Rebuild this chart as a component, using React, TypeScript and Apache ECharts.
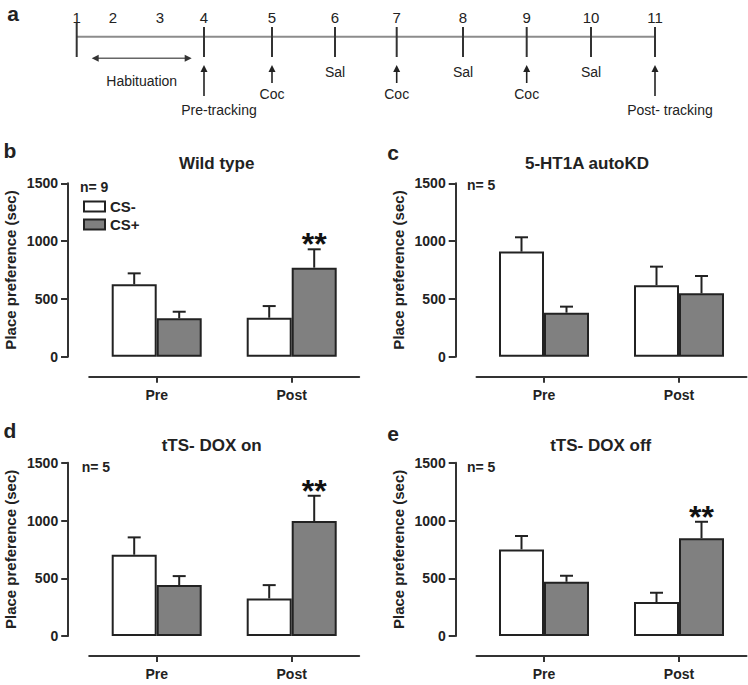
import React, { useEffect, useRef } from 'react';
import * as echarts from 'echarts';

// ---------- data ----------
const categories = ['Pre', 'Post'];
const seriesNames = ['CS-', 'CS+'];
const panelLetters = ['b', 'c', 'd', 'e'];
const panelTitles = ['Wild type', '5-HT1A autoKD', 'tTS- DOX on', 'tTS- DOX off'];
const panelN = ['n= 9', 'n= 5', 'n= 5', 'n= 5'];
// means per panel [Pre, Post]
const csMinusMean = [[626, 337], [909, 618], [704, 326], [750, 294]];
const csPlusMean = [[332, 770], [381, 548], [441, 995], [470, 846]];
// SEM per panel [Pre, Post]
const csMinusSem = [[95, 101], [124, 161], [150, 115], [116, 81]];
const csPlusSem = [[57, 159], [52, 150], [78, 219], [52, 143]];
// significance marks on CS+ bars
const csPlusSig = [['', '**'], ['', ''], ['', '**'], ['', '**']];
const yTickValues = [0, 500, 1000, 1500];
const yAxisTitle = 'Place preference (sec)';

// timeline (panel a)
const days = ['1', '2', '3', '4', '5', '6', '7', '8', '9', '10', '11'];
const dayHasTick = [true, false, false, true, true, true, true, true, true, true, true];
const dayEvent = ['', '', '', 'Pre-tracking', 'Coc', 'Sal', 'Coc', 'Sal', 'Coc', 'Sal', 'Post- tracking'];
const habituationLabel = 'Habituation';

// ---------- layout ----------
const FONT = '"Liberation Sans", Arial, Helvetica, sans-serif';
const dayX = [76.7, 113, 160, 204, 272, 335, 396.7, 463, 526.7, 591, 655];
const gridLefts = [89.2, 476.5, 89.2, 476.5];
const gridTops = [183.3, 183.3, 462.7, 462.7];
const gridW = 270;
const gridH = 173.4;
const yAxisOffsets = [21.2, 20.8, 21, 20.8];
const letterPos = [[10, 150], [393, 152], [10, 430], [393, 433]];
const titlePos = [[216.7, 163], [587, 163], [211.7, 445], [600.7, 445]];
const nPos = [[80, 187], [467, 185], [81.7, 466.7], [467, 466.7]];

function txt(text: string, x: number, y: number, size: number, bold: boolean, align = 'center', valign = 'middle', color = '#222') {
  return {
    type: 'text',
    silent: true,
    style: {
      text, x, y,
      fill: color,
      font: `${bold ? 'bold ' : ''}${size}px ${FONT}`,
      align, verticalAlign: valign,
      textAlign: align, textVerticalAlign: valign,
    },
  };
}
function ln(x1: number, y1: number, x2: number, y2: number, stroke = '#333', w = 2) {
  return { type: 'line', silent: true, shape: { x1, y1, x2, y2 }, style: { stroke, lineWidth: w } };
}
function upArrow(x: number, yTop: number, yBot: number) {
  return [
    ln(x, yTop + 3, x, yBot, '#222', 1.6),
    { type: 'polygon', silent: true, shape: { points: [[x, yTop], [x - 3.5, yTop + 7], [x + 3.5, yTop + 7]] }, style: { fill: '#222' } },
  ];
}

export default function App() {
  const ref = useRef<HTMLDivElement>(null);
  useEffect(() => {
    if (!ref.current) return;
    const chart = echarts.init(ref.current, undefined, { renderer: 'svg' });

    const graphics: any[] = [];
    // panel a
    graphics.push(txt('a', 13, 13, 21, true));
    const lineY = 36.7;
    graphics.push(ln(dayX[0], lineY, dayX[dayX.length - 1], lineY, '#8c8c8c', 2));
    days.forEach((d, i) => {
      graphics.push(txt(d, dayX[i], 17, 15, false));
      if (dayHasTick[i]) graphics.push(ln(dayX[i], i === 0 ? 23 : 27, dayX[i], 57, '#333', 2));
      const ev = dayEvent[i];
      if (ev === 'Coc') {
        graphics.push(...upArrow(dayX[i], 65, 83));
        graphics.push(txt(ev, dayX[i], 94, 14, false));
      } else if (ev === 'Sal') {
        graphics.push(txt(ev, dayX[i], 72, 14, false));
      } else if (ev) {
        graphics.push(...upArrow(dayX[i], 65, 96));
        graphics.push(txt(ev, i === 3 ? 219 : 670, 110, 14, false));
      }
    });
    // habituation double arrow
    const hx1 = 91.7, hx2 = 191.7, hy = 58.3;
    graphics.push(ln(hx1 + 3, hy, hx2 - 3, hy, '#666', 1.6));
    graphics.push({ type: 'polygon', silent: true, shape: { points: [[hx1, hy], [hx1 + 7, hy - 3.5], [hx1 + 7, hy + 3.5]] }, style: { fill: '#333' } });
    graphics.push({ type: 'polygon', silent: true, shape: { points: [[hx2, hy], [hx2 - 7, hy - 3.5], [hx2 - 7, hy + 3.5]] }, style: { fill: '#333' } });
    graphics.push(txt(habituationLabel, 141.7, 81, 14, false));

    // panel letters, titles, n
    for (let p = 0; p < 4; p++) {
      graphics.push(txt(panelLetters[p], letterPos[p][0], letterPos[p][1], 21, true));
      graphics.push(txt(panelTitles[p], titlePos[p][0], titlePos[p][1], 17, true));
      graphics.push(txt(panelN[p], nPos[p][0], nPos[p][1], 14, true, 'left'));
    }

    const grid: any[] = [];
    const xAxis: any[] = [];
    const yAxis: any[] = [];
    const series: any[] = [];
    for (let p = 0; p < 4; p++) {
      grid.push({ left: gridLefts[p], top: gridTops[p], width: gridW, height: gridH, containLabel: false });
      xAxis.push({
        type: 'category', gridIndex: p, data: categories, offset: 20,
        axisLine: { show: true, onZero: false, lineStyle: { color: '#333', width: 2 } },
        axisTick: { show: true, alignWithLabel: true, length: 6, lineStyle: { color: '#333', width: 2 } },
        axisLabel: { fontWeight: 'bold', fontSize: 14, color: '#222', margin: 11, fontFamily: FONT },
        splitLine: { show: false },
      });
      yAxis.push({
        type: 'value', gridIndex: p, min: 0, max: 1500, interval: 500, offset: yAxisOffsets[p],
        name: yAxisTitle, nameLocation: 'middle', nameRotate: 90, nameGap: 50,
        nameTextStyle: { fontWeight: 'bold', fontSize: 15, color: '#222', fontFamily: FONT },
        axisLine: { show: true, lineStyle: { color: '#333', width: 2 } },
        axisTick: { show: true, length: 7, lineStyle: { color: '#333', width: 2 } },
        axisLabel: {
          fontWeight: 'bold', fontSize: 14, color: '#222', margin: 10, fontFamily: FONT,
          formatter: (v: number) => String(v),
        },
        splitLine: { show: false },
      });
      const means = [csMinusMean[p], csPlusMean[p]];
      const sems = [csMinusSem[p], csPlusSem[p]];
      const sigs = [['', ''], csPlusSig[p]];
      [0, 1].forEach((g) => {
        series.push({
          type: 'bar', name: seriesNames[g], xAxisIndex: p, yAxisIndex: p,
          data: means[g], barGap: '0%', barCategoryGap: '33.333%',
          itemStyle: { color: g === 0 ? '#ffffff' : '#808080', borderColor: '#222', borderWidth: 2 },
          z: 2,
        });
      });
      const errData: number[][] = [];
      const errSig: string[] = [];
      [0, 1].forEach((g) => {
        categories.forEach((_, c) => {
          errData.push([c, means[g][c], sems[g][c], g]);
          errSig.push(sigs[g][c]);
        });
      });
      series.push({
        type: 'custom', xAxisIndex: p, yAxisIndex: p, data: errData, z: 3, clip: false,
        renderItem: (params: any, api: any) => {
          const c = api.value(0), m = api.value(1), s = api.value(2), g = api.value(3);
          const base = api.coord([c, m]);
          const top = api.coord([c, m + s]);
          const band = api.size([1, 0])[0];
          const x = base[0] + (g === 0 ? -band / 6 : band / 6);
          const cap = 6.5;
          const children: any[] = [
            { type: 'line', shape: { x1: x, y1: base[1], x2: x, y2: top[1] }, style: { stroke: '#222', lineWidth: 2 } },
            { type: 'line', shape: { x1: x - cap, y1: top[1], x2: x + cap, y2: top[1] }, style: { stroke: '#222', lineWidth: 2 } },
          ];
          const sig = errSig[params.dataIndex];
          if (sig) {
            children.push({
              type: 'text',
              style: { text: sig, x, y: top[1] - 5, fill: '#111', font: `bold 32px ${FONT}`, align: 'center', verticalAlign: 'middle', textAlign: 'center', textVerticalAlign: 'middle' },
            });
          }
          return { type: 'group', children };
        },
      });
    }

    chart.setOption({
      animation: false,
      backgroundColor: '#ffffff',
      textStyle: { fontFamily: FONT },
      grid, xAxis, yAxis, series,
      legend: {
        data: seriesNames, orient: 'vertical', left: 78, top: 194, icon: 'rect',
        itemWidth: 21, itemHeight: 10, itemGap: 3, itemTextGap: 5, selectedMode: false,
        textStyle: { fontWeight: 'bold', fontSize: 15, color: '#222', lineHeight: 14, fontFamily: FONT },
      },
      graphic: graphics,
    });
    return () => chart.dispose();
  }, []);
  return <div ref={ref} style={{ position: 'absolute', left: 0, top: 0, width: 748, height: 685 }} />;
}
